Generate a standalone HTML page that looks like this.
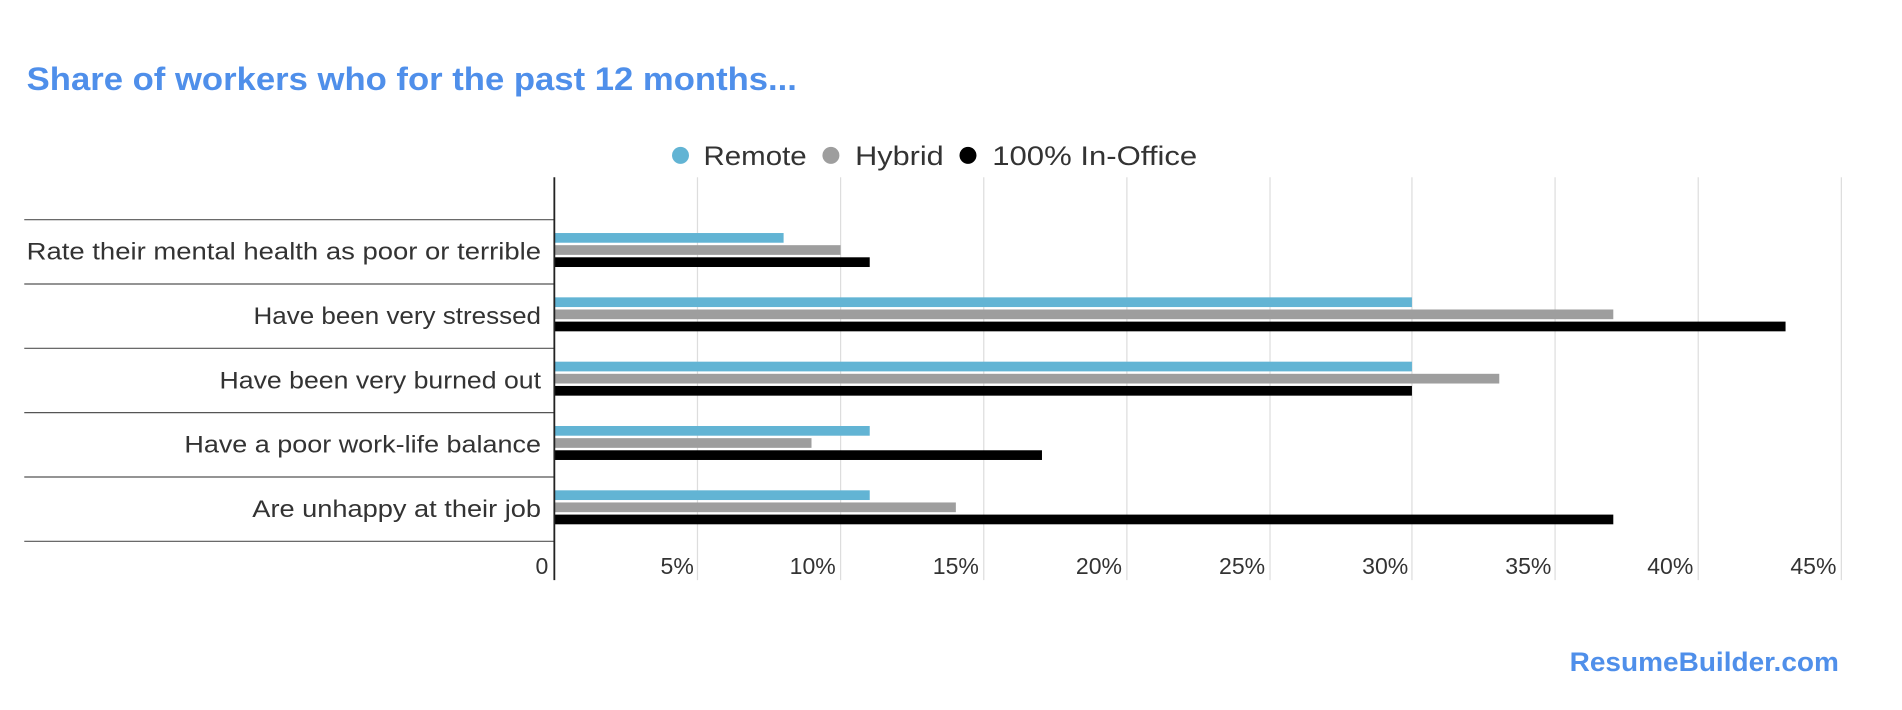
<!DOCTYPE html>
<html><head><meta charset="utf-8"><style>
html,body{margin:0;padding:0;background:#fff;}
svg{display:block;}
text{font-family:"Liberation Sans",sans-serif;}
</style></head><body>
<svg width="1902" height="710" viewBox="0 0 1568 585" preserveAspectRatio="none">
<text x="22" y="74" font-size="27" font-weight="bold" fill="#4f8fea" textLength="635" lengthAdjust="spacingAndGlyphs">Share of workers who for the past 12 months...</text>
<circle cx="561" cy="128" r="7" fill="#62b4d4"/>
<text x="580" y="136" font-size="22" fill="#333" textLength="85" lengthAdjust="spacingAndGlyphs">Remote</text>
<circle cx="685" cy="128" r="7" fill="#9e9e9e"/>
<text x="705" y="136" font-size="22" fill="#333" textLength="73" lengthAdjust="spacingAndGlyphs">Hybrid</text>
<circle cx="798" cy="128" r="7" fill="#000"/>
<text x="818" y="136" font-size="22" fill="#333" textLength="169" lengthAdjust="spacingAndGlyphs">100% In-Office</text>
<g stroke="#ddd" stroke-width="1">
<line x1="575" y1="146" x2="575" y2="478"/><line x1="693" y1="146" x2="693" y2="478"/>
<line x1="811" y1="146" x2="811" y2="478"/><line x1="929" y1="146" x2="929" y2="478"/>
<line x1="1047" y1="146" x2="1047" y2="478"/><line x1="1164" y1="146" x2="1164" y2="478"/>
<line x1="1282" y1="146" x2="1282" y2="478"/><line x1="1400" y1="146" x2="1400" y2="478"/>
<line x1="1518" y1="146" x2="1518" y2="478"/>
</g>
<g stroke="#555" stroke-width="1">
<line x1="20" y1="181" x2="457" y2="181"/><line x1="20" y1="234" x2="457" y2="234"/>
<line x1="20" y1="287" x2="457" y2="287"/><line x1="20" y1="340" x2="457" y2="340"/>
<line x1="20" y1="393" x2="457" y2="393"/><line x1="20" y1="446" x2="457" y2="446"/>
</g>
<g>
<rect x="457" y="192" width="189" height="8" fill="#62b4d4"/>
<rect x="457" y="202" width="236" height="8" fill="#9e9e9e"/>
<rect x="457" y="212" width="260" height="8" fill="#000"/>
<rect x="457" y="245" width="707" height="8" fill="#62b4d4"/>
<rect x="457" y="255" width="873" height="8" fill="#9e9e9e"/>
<rect x="457" y="265" width="1015" height="8" fill="#000"/>
<rect x="457" y="298" width="707" height="8" fill="#62b4d4"/>
<rect x="457" y="308" width="779" height="8" fill="#9e9e9e"/>
<rect x="457" y="318" width="707" height="8" fill="#000"/>
<rect x="457" y="351" width="260" height="8" fill="#62b4d4"/>
<rect x="457" y="361" width="212" height="8" fill="#9e9e9e"/>
<rect x="457" y="371" width="402" height="8" fill="#000"/>
<rect x="457" y="404" width="260" height="8" fill="#62b4d4"/>
<rect x="457" y="414" width="331" height="8" fill="#9e9e9e"/>
<rect x="457" y="424" width="873" height="8" fill="#000"/>
</g>
<line x1="457" y1="146" x2="457" y2="478" stroke="#222" stroke-width="1.5"/>
<g font-size="20" fill="#333">
<text x="22" y="214" textLength="424" lengthAdjust="spacingAndGlyphs">Rate their mental health as poor or terrible</text>
<text x="209" y="267" textLength="237" lengthAdjust="spacingAndGlyphs">Have been very stressed</text>
<text x="181" y="320" textLength="265" lengthAdjust="spacingAndGlyphs">Have been very burned out</text>
<text x="152" y="373" textLength="294" lengthAdjust="spacingAndGlyphs">Have a poor work-life balance</text>
<text x="208" y="426" textLength="238" lengthAdjust="spacingAndGlyphs">Are unhappy at their job</text>
</g>
<g font-size="19" fill="#333" text-anchor="end">
<text x="452" y="473">0</text>
<text x="572" y="473">5%</text>
<text x="689" y="473">10%</text>
<text x="807" y="473">15%</text>
<text x="925" y="473">20%</text>
<text x="1043" y="473">25%</text>
<text x="1161" y="473">30%</text>
<text x="1279" y="473">35%</text>
<text x="1396" y="473">40%</text>
<text x="1514" y="473">45%</text>
</g>
<text x="1294" y="553" font-size="22" font-weight="bold" fill="#4f8fea" textLength="222" lengthAdjust="spacingAndGlyphs">ResumeBuilder.com</text>
</svg>
</body></html>
